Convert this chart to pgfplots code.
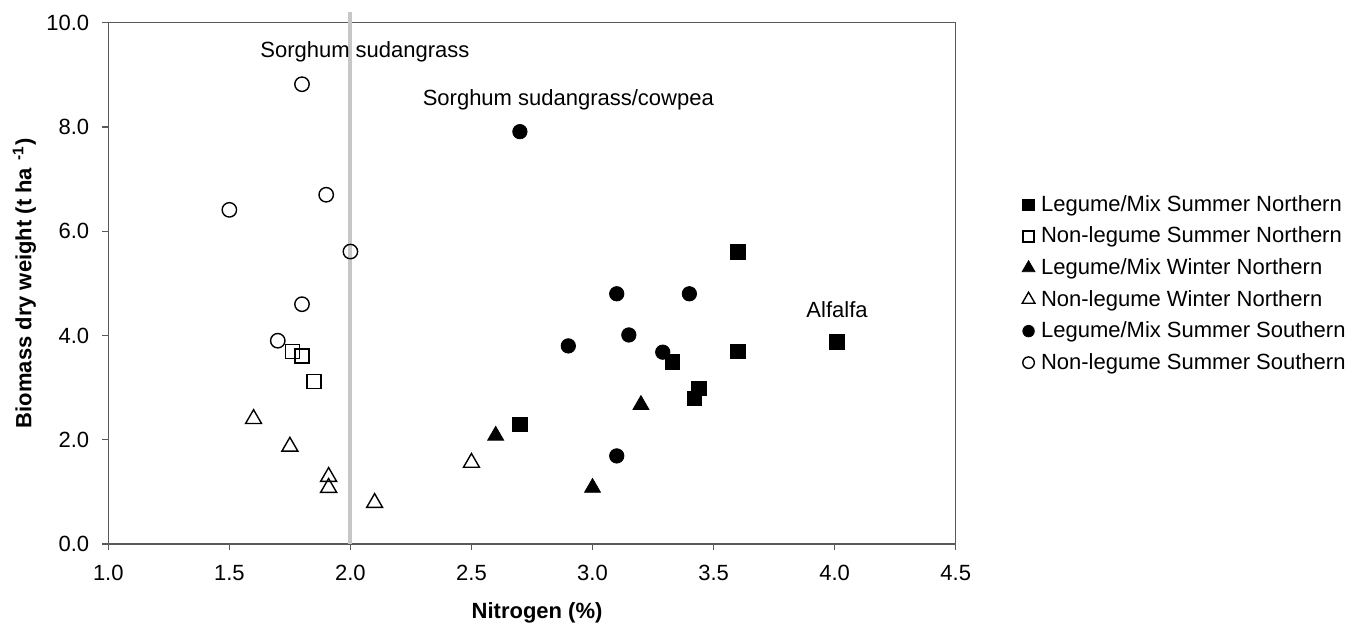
\documentclass[border=0pt]{standalone}
\usepackage{pgfplots}
\pgfplotsset{compat=1.18}
\usepackage{fontspec}
\setmainfont{Liberation Sans}
\begin{document}
\begin{tikzpicture}[font=\fontsize{11}{13.2}\selectfont]
\begin{axis}[
  scale only axis, width=423.7pt, height=260.65pt,
  anchor=south west, at={(0,0)},
  xmin=1, xmax=4.5, ymin=0, ymax=10,
  xtick={1,1.5,...,4.5}, ytick={0,2,...,10},
  /pgf/number format/assume math mode=true,
  xticklabel style={/pgf/number format/.cd,fixed,fixed zerofill,precision=1,/tikz/.cd, yshift=-4pt},
  yticklabel style={/pgf/number format/.cd,fixed,fixed zerofill,precision=1,/tikz/.cd, xshift=-3pt},
  tick align=outside, tick pos=left, major tick length=3pt,
  axis line style={black!65, line width=0.6pt},
  every tick/.style={black!65, line width=0.6pt},
  clip=false,
  xlabel={\bfseries Nitrogen (\%)},
  ylabel={\bfseries Biomass dry weight (t ha\,\,\textsuperscript{-1})},
  every axis x label/.style={at={(axis description cs:0.506,-0.1324)}, anchor=center},
  every axis y label/.style={at={(axis description cs:-0.099,0.5)}, rotate=90, anchor=center},
  legend style={draw=none, fill=none, at={(1.078,0.677)}, anchor=north west, row sep=2.3pt, inner sep=0pt,
    font=\fontsize{11}{13.2}\selectfont},
  legend cell align=left,
  legend image code/.code={\draw[#1, every mark/.append style={scale=0.8}] plot coordinates {(0cm,0cm)}; \path (3.9pt,0pt);},
]
\addplot[forget plot, black!22, line width=2pt] coordinates {(2,0) (2,10.21)};
% Legume/Mix Summer Northern
\addplot[only marks, mark=square*, mark size=3.6pt, black] coordinates {
 (2.70,2.30) (3.33,3.49) (3.42,2.79) (3.44,2.99) (3.60,3.69) (3.60,5.60) (4.01,3.88)};
\addlegendentry{Legume/Mix Summer Northern}
% Non-legume Summer Northern
\addplot[only marks, mark=square, mark size=3.5pt, black, line width=0.7pt, mark options={fill=white}] coordinates {
 (1.76,3.69) (1.80,3.61) (1.85,3.12)};
\addlegendentry{Non-legume Summer Northern}
% Legume/Mix Winter Northern
\addplot[only marks, mark=triangle*, mark size=4.6pt, black] coordinates {
 (2.60,2.08) (3.20,2.67) (3.00,1.08)};
\addlegendentry{Legume/Mix Winter Northern}
% Non-legume Winter Northern
\addplot[only marks, mark=triangle, mark size=4.6pt, black, line width=0.7pt, mark options={fill=white}] coordinates {
 (1.60,2.40) (1.75,1.87) (1.91,1.29) (1.91,1.08) (2.10,0.79) (2.50,1.56)};
\addlegendentry{Non-legume Winter Northern}
% Legume/Mix Summer Southern
\addplot[only marks, mark=*, mark size=3.6pt, black] coordinates {
 (2.70,7.91) (3.10,4.80) (3.40,4.80) (2.90,3.80) (3.15,4.01) (3.29,3.68) (3.10,1.69)};
\addlegendentry{Legume/Mix Summer Southern}
% Non-legume Summer Southern
\addplot[only marks, mark=o, mark size=3.6pt, black, line width=0.7pt, mark options={fill=white}] coordinates {
 (1.80,8.82) (1.50,6.41) (1.90,6.70) (2.00,5.61) (1.80,4.60) (1.70,3.90)};
\addlegendentry{Non-legume Summer Southern}
\node[font=\fontsize{11}{13.2}\selectfont] at (axis cs:2.06,9.44) {Sorghum sudangrass};
\node[font=\fontsize{11}{13.2}\selectfont] at (axis cs:2.90,8.52) {Sorghum sudangrass/cowpea};
\node[font=\fontsize{11}{13.2}\selectfont] at (axis cs:4.01,4.50) {Alfalfa};
\end{axis}
\pgfresetboundingbox
\path (-54.15pt,-39.5pt) rectangle (624.35pt,272pt);
\end{tikzpicture}
\end{document}
